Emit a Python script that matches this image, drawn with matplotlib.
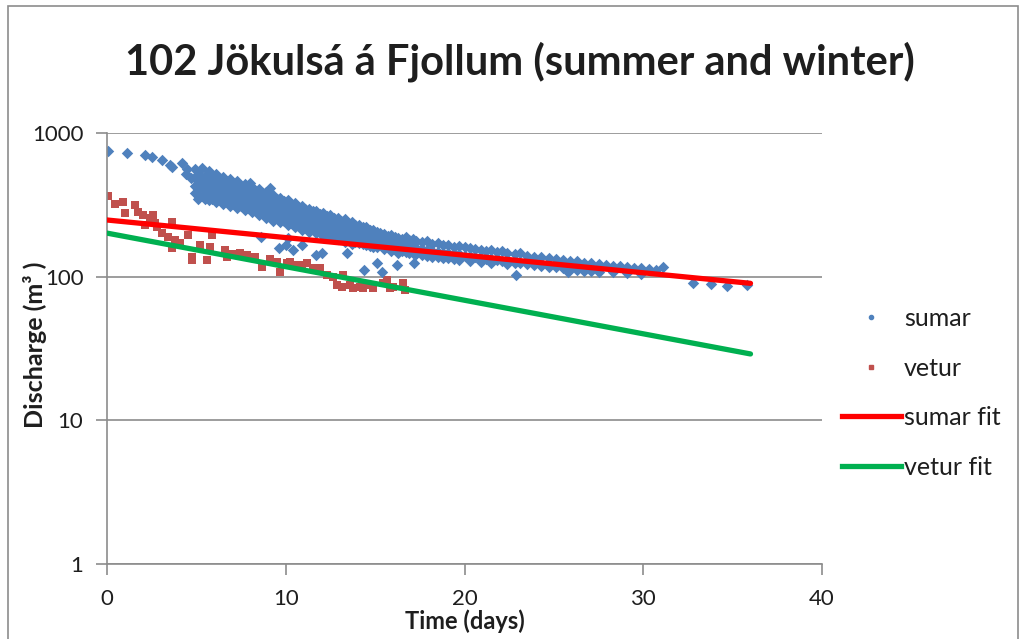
import matplotlib
matplotlib.use("Agg")
import matplotlib.pyplot as plt
import numpy as np
from matplotlib.lines import Line2D
from matplotlib.patches import Rectangle
from matplotlib.ticker import FixedLocator, FuncFormatter, NullLocator

plt.rcParams['font.family'] = ['Lato', 'DejaVu Sans']

# ---- summer recession points (days, discharge) ----
sumar_t = [
    0.05, 1.1, 2.1, 2.5, 3.1, 3.5, 3.65, 4.2, 4.4, 4.5, 4.7,
    4.9, 4.9, 4.9, 4.9, 5.1, 5.1, 5.1, 5.1, 5.1, 5.3, 5.3, 5.3, 5.3,
    5.5, 5.5, 5.5, 5.5, 5.7, 5.7, 5.7, 5.7, 5.7, 5.9, 5.9, 5.9, 5.9,
    6.1, 6.1, 6.1, 6.1, 6.1, 6.3, 6.3, 6.3, 6.3, 6.5, 6.5, 6.5, 6.5, 6.5,
    6.7, 6.7, 6.7, 6.7, 6.9, 6.9, 6.9, 6.9, 6.9, 7.1, 7.1, 7.1, 7.1,
    7.3, 7.3, 7.3, 7.3, 7.3, 7.5, 7.5, 7.5, 7.5, 7.7, 7.7, 7.7, 7.7, 7.7,
    7.9, 7.9, 7.9, 7.9, 8.0, 8.1, 8.1, 8.1, 8.1, 8.1, 8.3, 8.3, 8.3, 8.3,
    8.5, 8.5, 8.5, 8.5, 8.5, 8.6, 8.7, 8.7, 8.7, 8.7, 8.9, 8.9, 8.9, 8.9, 8.9,
    9.1, 9.1, 9.1, 9.1, 9.1, 9.3, 9.3, 9.3, 9.3, 9.3, 9.5, 9.5, 9.5, 9.5,
    9.6, 9.7, 9.7, 9.7, 9.7, 9.7, 9.9, 9.9, 9.9, 9.9, 10.0,
    10.1, 10.1, 10.1, 10.1, 10.1, 10.1, 10.3, 10.3, 10.3, 10.3, 10.4,
    10.5, 10.5, 10.5, 10.5, 10.5, 10.7, 10.7, 10.7, 10.7,
    10.9, 10.9, 10.9, 10.9, 10.9, 10.9, 11.1, 11.1, 11.1, 11.1,
    11.3, 11.3, 11.3, 11.3, 11.3, 11.5, 11.5, 11.5, 11.5,
    11.7, 11.7, 11.7, 11.7, 11.7, 11.7, 11.9, 11.9, 11.9, 11.9, 12.0,
    12.1, 12.1, 12.1, 12.1, 12.1, 12.3, 12.3, 12.3, 12.3,
    12.5, 12.5, 12.5, 12.5, 12.5, 12.7, 12.7, 12.7, 12.7,
    12.9, 12.9, 12.9, 12.9, 12.9, 13.1, 13.1, 13.1, 13.1,
    13.3, 13.3, 13.3, 13.3, 13.3, 13.4, 13.5, 13.5, 13.5, 13.5,
    13.7, 13.7, 13.7, 13.7, 13.7, 13.9, 13.9, 13.9, 13.9,
    14.1, 14.1, 14.1, 14.1, 14.3, 14.3, 14.3, 14.3, 14.4,
    14.5, 14.5, 14.5, 14.5, 14.7, 14.7, 14.7, 14.7,
    14.9, 14.9, 14.9, 14.9, 15.1, 15.1, 15.1, 15.1, 15.1,
    15.3, 15.3, 15.3, 15.4, 15.5, 15.5, 15.5, 15.5, 15.7, 15.7, 15.7,
    15.9, 15.9, 15.9, 15.9, 16.1, 16.1, 16.1, 16.2, 16.3, 16.3, 16.3, 16.3,
    16.5, 16.5, 16.5, 16.7, 16.7, 16.7, 16.9, 16.9, 16.9,
    17.1, 17.1, 17.1, 17.2, 17.3, 17.3, 17.3, 17.6, 17.6, 17.6,
    17.9, 17.9, 17.9, 18.2, 18.2, 18.2, 18.5, 18.5, 18.5,
    18.8, 18.8, 18.8, 19.1, 19.1, 19.1, 19.4, 19.4, 19.4,
    19.7, 19.7, 19.7, 20.0, 20.0, 20.3, 20.3, 20.3, 20.6, 20.6,
    20.9, 20.9, 20.9, 21.2, 21.2, 21.5, 21.5, 21.5, 21.8, 21.8,
    22.1, 22.1, 22.4, 22.4, 22.4, 22.8, 22.8, 22.9, 23.1, 23.1,
    23.5, 23.5, 23.9, 23.9, 24.3, 24.3, 24.7, 24.7, 25.1, 25.1,
    25.5, 25.5, 25.8, 25.9, 25.9, 26.3, 26.3, 26.7, 26.7, 27.1, 27.1,
    27.5, 27.5, 27.9, 28.3, 28.3, 28.7, 29.1, 29.1, 29.5, 29.9, 29.9,
    30.3, 30.7, 31.1, 32.8, 33.8, 34.7, 35.8,
]
sumar_q = [
    755, 726, 703, 681, 649, 600, 580, 620, 520, 560, 490,
    560, 490, 430, 385, 520, 465, 410, 370, 345, 575, 480, 420, 365,
    505, 450, 400, 350, 540, 470, 415, 380, 340, 490, 440, 390, 345,
    515, 455, 405, 360, 330, 470, 425, 385, 340, 495, 440, 395, 350, 320,
    455, 410, 370, 330, 480, 420, 380, 340, 310, 440, 395, 360, 320,
    460, 405, 365, 330, 300, 425, 385, 350, 310, 445, 395, 355, 320, 290,
    410, 370, 335, 300, 450, 420, 380, 340, 305, 280, 395, 355, 325, 290,
    405, 360, 320, 295, 270, 190, 380, 340, 310, 280, 390, 345, 305, 275, 255,
    365, 325, 295, 265, 415, 370, 330, 300, 270, 245, 350, 315, 285, 255,
    158, 355, 320, 290, 260, 240, 335, 300, 275, 245, 166,
    340, 305, 275, 250, 228, 186, 320, 290, 262, 238, 153,
    325, 295, 265, 240, 220, 305, 278, 252, 230,
    310, 280, 255, 232, 212, 166, 295, 268, 245, 222,
    298, 270, 246, 225, 205, 285, 260, 238, 215,
    288, 262, 240, 218, 200, 142, 275, 250, 230, 210, 146,
    278, 252, 230, 210, 193, 265, 242, 222, 203,
    268, 244, 222, 202, 188, 255, 234, 214, 196,
    258, 235, 215, 195, 182, 245, 225, 206, 188,
    250, 228, 205, 186, 175, 146, 238, 218, 200, 183,
    240, 216, 196, 180, 170, 228, 208, 190, 175,
    230, 206, 188, 172, 220, 200, 184, 170, 111,
    222, 198, 180, 166, 212, 194, 178, 164,
    210, 190, 175, 162, 205, 186, 172, 160, 124,
    200, 183, 170, 108, 198, 180, 167, 156, 192, 176, 163,
    194, 175, 162, 150, 188, 172, 156, 121, 186, 170, 154, 146,
    184, 166, 150, 188, 164, 148, 180, 161, 146,
    182, 160, 147, 124, 177, 158, 144, 175, 156, 142,
    176, 153, 140, 170, 150, 138, 172, 149, 136,
    166, 147, 135, 165, 146, 134, 162, 144, 132,
    163, 143, 131, 160, 140, 158, 139, 129, 156, 136,
    154, 135, 126, 152, 133, 153, 132, 124, 149, 130,
    150, 128, 147, 129, 122, 143, 125, 103, 145, 124,
    140, 122, 138, 120, 136, 118, 135, 117, 133, 116,
    130, 114, 108, 129, 113, 128, 112, 125, 110, 124, 109,
    122, 108, 120, 119, 107, 118, 117, 106, 115, 114, 105,
    113, 111, 117, 90, 89, 86, 88,
]

# ---- winter recession points (days, discharge) ----
vetur_t = [
    0.06, 0.45, 0.9, 1.0, 1.57, 1.73, 2.0, 2.1, 2.4, 2.57, 2.69, 2.8,
    3.08, 3.41, 3.64, 3.8, 3.64, 4.08, 4.53, 4.76, 4.76, 5.2, 5.6, 5.87,
    5.76, 6.6, 6.71, 7.05, 7.44, 7.83, 8.28, 8.67, 9.12, 9.51, 9.68,
    10.07, 10.24, 10.63, 10.91, 11.19, 11.52, 11.92, 12.31, 12.64, 12.87,
    13.15, 13.2, 13.6, 13.76, 14.15, 14.32, 14.55, 14.88, 15.44, 15.66,
    15.83, 16.0, 16.56, 16.67,
]
vetur_q = [
    364, 320, 331, 277, 315, 282, 269, 229, 256, 269, 236, 222,
    201, 189, 240, 180, 158, 171, 195, 137, 131, 166, 131, 195,
    161, 153, 137, 144, 146, 142, 137, 117, 133, 126, 108,
    124, 126, 121, 121, 124, 115, 115, 103, 100, 87.5,
    85, 103, 87.5, 83, 85, 83, 87.5, 83, 90, 95,
    83, 85, 90, 81,
]

# ---- exponential recession fits: Q = q0 * exp(-k t) ----
fit_t = [0, 36]
sumar_fit_q0, sumar_fit_k = 248, 0.0282
vetur_fit_q0, vetur_fit_k = 201, 0.0538

x_ticks = [0, 10, 20, 30, 40]
y_ticks = [1, 10, 100, 1000]

BLUE = '#4F81BD'
DARKRED = '#C0504D'
RED = '#FF0000'
GREEN = '#00B050'
GRID = '#8C8C8C'
TEXT = '#1e1e1e'

fig = plt.figure(figsize=(10.22, 6.39), dpi=100)
ax = fig.add_axes([107 / 1022, 1 - 564 / 639, (822 - 107) / 1022, (564 - 133) / 639])

ft = np.linspace(fit_t[0], fit_t[1], 200)
ax.plot(ft, sumar_fit_q0 * np.exp(-sumar_fit_k * ft), color=RED, lw=3.8,
        solid_capstyle='round', zorder=3)
ax.plot(ft, vetur_fit_q0 * np.exp(-vetur_fit_k * ft), color=GREEN, lw=3.8,
        solid_capstyle='round', zorder=3)
ax.scatter(vetur_t, vetur_q, marker='s', s=36, color=DARKRED, lw=0, zorder=2)
ax.scatter(sumar_t, sumar_q, marker='D', s=34, color=BLUE, lw=0, zorder=2)

ax.set_yscale('log')
ax.set_xlim(0, 40)
ax.set_ylim(1, 1000)
ax.xaxis.set_major_locator(FixedLocator(x_ticks))
ax.yaxis.set_major_locator(FixedLocator(y_ticks))
ax.yaxis.set_minor_locator(NullLocator())
ax.yaxis.set_major_formatter(FuncFormatter(lambda v, p: f"{int(v)}"))
ax.tick_params(axis='both', which='major', direction='out', length=8,
               width=1.2, color=GRID, labelsize=16, labelcolor=TEXT)
ax.tick_params(axis='x', pad=10)
ax.tick_params(axis='y', pad=9)
ax.grid(axis='y', color=GRID, lw=1.2)
ax.set_axisbelow(True)
for side in ('top', 'right'):
    ax.spines[side].set_visible(False)
for side in ('left', 'bottom'):
    ax.spines[side].set_color(GRID)
    ax.spines[side].set_linewidth(1.2)

ax.set_xlabel('Time (days)', fontsize=17, fontweight='bold', color=TEXT)
ax.xaxis.set_label_coords((465 - 107) / 715, -(621 - 564) / 431)
ax.xaxis.label.set_va('center')
ax.set_ylabel('Discharge (m³ )', fontsize=18, fontweight='bold', color=TEXT)
ax.yaxis.set_label_coords((35 - 107) / 715, (564 - 345) / 431)
ax.yaxis.label.set_va('center')

fig.text(520 / 1022, 1 - 62 / 639, '102 Jökulsá á Fjollum (summer and winter)',
         ha='center', va='center', fontsize=30, fontweight='bold', color=TEXT)

handles = [
    Line2D([], [], ls='none', marker='o', ms=3, color=BLUE),
    Line2D([], [], ls='none', marker='s', ms=3.5, color=DARKRED),
    Line2D([], [], color=RED, lw=3.8),
    Line2D([], [], color=GREEN, lw=3.8),
]
fig.legend(handles, ['sumar', 'vetur', 'sumar fit', 'vetur fit'],
           loc='upper left', bbox_to_anchor=(842 / 1022, 1 - 307 / 639),
           frameon=False, fontsize=18, handlelength=2.35, handletextpad=0.12,
           labelspacing=1.06, borderpad=0, borderaxespad=0, labelcolor=TEXT)

fig.patches.append(Rectangle((8 / 1022, -0.02), 1010 / 1022, 1 - 6 / 639 + 0.02,
                             transform=fig.transFigure, fill=False,
                             edgecolor='#8C8C8C', lw=1.2))

fig.savefig('out.png', dpi=100, facecolor='white')
